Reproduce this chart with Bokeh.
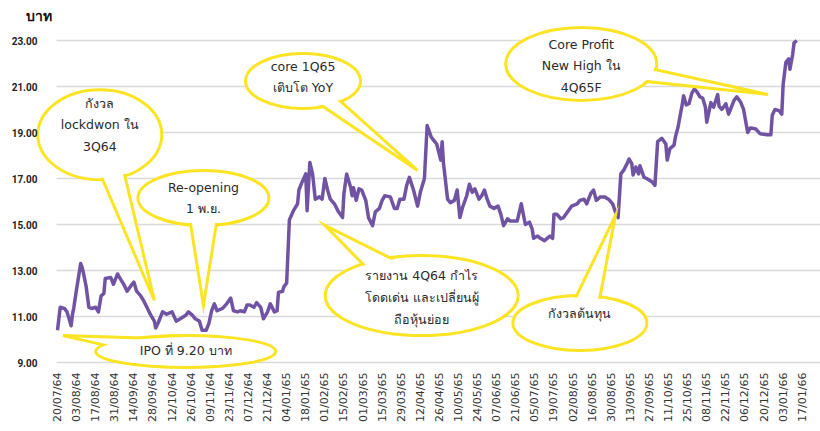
import math
from datetime import datetime

from bokeh.plotting import figure
from bokeh.models import FixedTicker, Label, Range1d
from bokeh.core.properties import value
from bokeh.embed import file_html
from bokeh.resources import INLINE

# ---------------- data ----------------
dates = [
    "2021-07-20", "2021-07-22", "2021-07-25", "2021-07-27", "2021-07-30", "2021-07-31",
    "2021-08-01", "2021-08-03", "2021-08-06", "2021-08-07", "2021-08-08", "2021-08-10",
    "2021-08-12", "2021-08-14", "2021-08-17", "2021-08-19", "2021-08-21", "2021-08-23",
    "2021-08-24", "2021-08-28", "2021-08-30", "2021-09-02", "2021-09-04", "2021-09-07",
    "2021-09-09", "2021-09-12", "2021-09-14", "2021-09-16", "2021-09-19", "2021-09-21",
    "2021-09-24", "2021-09-26", "2021-09-29", "2021-09-30", "2021-10-02", "2021-10-05",
    "2021-10-08", "2021-10-12", "2021-10-15", "2021-10-18", "2021-10-22", "2021-10-24",
    "2021-10-27", "2021-10-29", "2021-11-01", "2021-11-03", "2021-11-06", "2021-11-08",
    "2021-11-10", "2021-11-12", "2021-11-14", "2021-11-18", "2021-11-21", "2021-11-24",
    "2021-11-26", "2021-11-29", "2021-12-01", "2021-12-04", "2021-12-06", "2021-12-08",
    "2021-12-11", "2021-12-13", "2021-12-16", "2021-12-18", "2021-12-21", "2021-12-23",
    "2021-12-26", "2021-12-28", "2021-12-29", "2022-01-01", "2022-01-02", "2022-01-04",
    "2022-01-06", "2022-01-09", "2022-01-12", "2022-01-13", "2022-01-15", "2022-01-18",
    "2022-01-19", "2022-01-21", "2022-01-23", "2022-01-25", "2022-01-28", "2022-01-30",
    "2022-02-01", "2022-02-03", "2022-02-05", "2022-02-08", "2022-02-11", "2022-02-14",
    "2022-02-15", "2022-02-17", "2022-02-20", "2022-02-21", "2022-02-22", "2022-02-24",
    "2022-02-26", "2022-02-28", "2022-03-03", "2022-03-05", "2022-03-08", "2022-03-10",
    "2022-03-13", "2022-03-15", "2022-03-17", "2022-03-21", "2022-03-24", "2022-03-26",
    "2022-03-28", "2022-03-31", "2022-04-02", "2022-04-04", "2022-04-07", "2022-04-10",
    "2022-04-12", "2022-04-15", "2022-04-17", "2022-04-20", "2022-04-22", "2022-04-24",
    "2022-04-27", "2022-04-28", "2022-04-29", "2022-05-02", "2022-05-04", "2022-05-07",
    "2022-05-09", "2022-05-11", "2022-05-13", "2022-05-16", "2022-05-18", "2022-05-20",
    "2022-05-22", "2022-05-25", "2022-05-27", "2022-05-29", "2022-05-31", "2022-06-02",
    "2022-06-05", "2022-06-08", "2022-06-10", "2022-06-12", "2022-06-15", "2022-06-17",
    "2022-06-22", "2022-06-25", "2022-06-28", "2022-07-01", "2022-07-03", "2022-07-04",
    "2022-07-07", "2022-07-09", "2022-07-12", "2022-07-14", "2022-07-16", "2022-07-18",
    "2022-07-19", "2022-07-21", "2022-07-24", "2022-07-26", "2022-07-29", "2022-08-01",
    "2022-08-05", "2022-08-07", "2022-08-10", "2022-08-12", "2022-08-15", "2022-08-17",
    "2022-08-19", "2022-08-22", "2022-08-25", "2022-08-28", "2022-08-31", "2022-09-02",
    "2022-09-04", "2022-09-06", "2022-09-08", "2022-09-11", "2022-09-12", "2022-09-14",
    "2022-09-15", "2022-09-17", "2022-09-19", "2022-09-20", "2022-09-23", "2022-09-25",
    "2022-09-29", "2022-10-01", "2022-10-03", "2022-10-06", "2022-10-09", "2022-10-10",
    "2022-10-12", "2022-10-15", "2022-10-16", "2022-10-18", "2022-10-20", "2022-10-21",
    "2022-10-22", "2022-10-24", "2022-10-26", "2022-10-28", "2022-10-30", "2022-11-01",
    "2022-11-03", "2022-11-05", "2022-11-07", "2022-11-08", "2022-11-11", "2022-11-13",
    "2022-11-16", "2022-11-17", "2022-11-19", "2022-11-22", "2022-11-24", "2022-11-28",
    "2022-11-30", "2022-12-03", "2022-12-05", "2022-12-08", "2022-12-10", "2022-12-14",
    "2022-12-17", "2022-12-22", "2022-12-25", "2022-12-26", "2022-12-28", "2022-12-31",
    "2023-01-02", "2023-01-03", "2023-01-05", "2023-01-07", "2023-01-08", "2023-01-10",
    "2023-01-11", "2023-01-13",
]
prices = [
    10.40, 11.40, 11.35, 11.20, 10.60, 11.10,
    11.40, 12.20, 13.30, 13.15, 12.90, 12.30,
    11.40, 11.35, 11.40, 11.20, 11.90, 12.00,
    12.65, 12.70, 12.40, 12.85, 12.65, 12.35,
    12.10, 12.35, 12.50, 12.10, 11.90, 11.70,
    11.35, 11.10, 10.80, 10.50, 10.75, 11.20,
    11.10, 11.20, 10.80, 10.90, 11.05, 11.20,
    11.05, 10.90, 10.80, 10.40, 10.40, 10.70,
    11.25, 11.55, 11.25, 11.35, 11.55, 11.80,
    11.25, 11.20, 11.25, 11.20, 11.50, 11.50,
    11.40, 11.60, 11.40, 10.90, 11.20, 11.55,
    11.20, 11.25, 12.05, 12.10, 12.30, 12.45,
    15.20, 15.60, 15.90, 16.50, 16.80, 17.20,
    15.60, 17.70, 17.20, 16.10, 16.20, 16.10,
    17.00, 16.50, 16.10, 15.90, 15.55, 15.30,
    16.35, 17.20, 16.60, 16.25, 16.60, 16.05,
    16.55, 16.50, 16.05, 15.30, 14.95, 15.55,
    15.70, 16.05, 16.25, 16.20, 15.70, 15.70,
    16.10, 16.10, 16.70, 17.05, 16.50, 15.80,
    16.40, 17.00, 19.30, 18.80, 18.65, 18.50,
    17.80, 18.60, 17.65, 16.10, 15.95, 16.05,
    16.50, 15.30, 15.75, 16.25, 16.75, 16.40,
    16.55, 16.10, 16.25, 16.50, 16.10, 15.80,
    15.70, 15.80, 15.45, 14.95, 15.25, 15.15,
    15.15, 15.90, 15.00, 15.10, 14.80, 14.40,
    14.50, 14.40, 14.30, 14.40, 14.50, 14.40,
    15.45, 15.45, 15.25, 15.30, 15.55, 15.80,
    15.90, 16.05, 16.10, 15.90, 16.35, 16.50,
    16.05, 16.20, 16.20, 16.10, 15.90, 15.55,
    15.30, 17.20, 17.35, 17.70, 17.85, 17.65,
    17.15, 17.50, 17.20, 17.55, 17.05, 17.00,
    16.85, 16.70, 18.60, 18.75, 18.50, 17.80,
    18.30, 18.45, 18.80, 19.25, 19.90, 20.20,
    20.60, 20.20, 20.25, 20.70, 20.90, 20.75,
    20.55, 20.50, 20.10, 19.45, 20.30, 20.10,
    20.65, 20.15, 20.00, 20.25, 19.80, 20.40,
    20.55, 20.30, 20.00, 19.00, 19.20, 19.15,
    18.95, 18.90, 18.90, 19.75, 20.00, 19.95,
    19.80, 21.10, 22.05, 22.20, 21.75, 22.40,
    22.90, 23.00,
]
x_tick_labels = [
    "20/07/64", "03/08/64", "17/08/64", "31/08/64", "14/09/64", "28/09/64",
    "12/10/64", "26/10/64", "09/11/64", "23/11/64", "07/12/64", "21/12/64",
    "04/01/65", "18/01/65", "01/02/65", "15/02/65", "01/03/65", "15/03/65",
    "29/03/65", "12/04/65", "26/04/65", "10/05/65", "24/05/65", "07/06/65",
    "21/06/65", "05/07/65", "19/07/65", "02/08/65", "16/08/65", "30/08/65",
    "13/09/65", "27/09/65", "11/10/65", "25/10/65", "08/11/65", "22/11/65",
    "06/12/65", "20/12/65", "03/01/66", "17/01/66", "31/01/66",
]
y_ticks = [9, 11, 13, 15, 17, 19, 21, 23]
y_tick_labels = ["9.00", "11.00", "13.00", "15.00", "17.00", "19.00", "21.00", "23.00"]
unit_label = "บาท"

callout_texts = [
    "กังวล\nlockdwon ใน\n3Q64",
    "Re-opening\n1 พ.ย.",
    "core 1Q65\nเติบโต YoY",
    "Core Profit\nNew High ใน\n4Q65F",
    "รายงาน 4Q64 กำไร\nโดดเด่น และเปลี่ยนผู้\nถือหุ้นย่อย",
    "กังวลต้นทุน",
    "IPO ที่ 9.20 บาท",
]

# ---------------- layout / style ----------------
W, H = 820, 431
BORDER_L, BORDER_B = 24, 62
FRAME_W, FRAME_H = W - BORDER_L, H - BORDER_B
FIRST_TICK_PX = 57          # canvas x of the first date tick
PX_PER_DAY = 1.364
PX_PER_UNIT = 23.0
LINE_COLOR = "#7153A3"
YELLOW = "#FBE423"
GRID_COLOR = "#D9D9D9"
TEXT_COLOR = "#2A2A2A"
FONT = "DejaVu Sans"

EPOCH = datetime(1970, 1, 1)
DAY_MS = 86400000.0


def ms(dt):
    return (dt - EPOCH).total_seconds() * 1000.0


def parse_be(label):
    d, m, yy = label.split("/")
    return datetime(2500 + int(yy) - 543, int(m), int(d))


x_vals = [ms(datetime.fromisoformat(d)) for d in dates]
tick_ms = [ms(parse_be(t)) for t in x_tick_labels]

x0 = tick_ms[0] - (FIRST_TICK_PX - BORDER_L) / PX_PER_DAY * DAY_MS
x1 = x0 + FRAME_W / PX_PER_DAY * DAY_MS
y0 = 9 - 7 / PX_PER_UNIT
y1 = y0 + FRAME_H / PX_PER_UNIT
MS_PER_PX = DAY_MS / PX_PER_DAY
UNIT_PER_PX = 1.0 / PX_PER_UNIT

p = figure(
    width=W, height=H, x_axis_type="datetime",
    x_range=Range1d(x0, x1), y_range=Range1d(y0, y1),
    output_backend="svg", toolbar_location=None,
    min_border_left=BORDER_L, min_border_right=0,
    min_border_top=0, min_border_bottom=BORDER_B,
)
p.outline_line_color = None
p.background_fill_color = "white"
p.border_fill_color = "white"
p.xgrid.visible = False
p.ygrid.visible = False

# horizontal gridlines, starting at the first date
p.segment(x0=[tick_ms[0] - 0.7 * DAY_MS] * len(y_ticks), x1=[x1] * len(y_ticks),
          y0=y_ticks, y1=y_ticks, line_color=GRID_COLOR, line_width=1.5)

# axes
xa = p.xaxis[0]
xa.ticker = FixedTicker(ticks=tick_ms)
xa.major_label_overrides = {t: lab for t, lab in zip(tick_ms, x_tick_labels)}
xa.major_label_orientation = math.pi / 2
xa.axis_line_color = None
xa.major_tick_line_color = None
xa.minor_tick_line_color = None
xa.major_tick_out = 0
xa.major_tick_in = 0
xa.minor_tick_out = 0
xa.major_label_standoff = 3
xa.major_label_text_font = FONT
xa.major_label_text_font_size = "11px"
xa.major_label_text_color = "#333333"

ya = p.yaxis[0]
ya.ticker = FixedTicker(ticks=y_ticks)
ya.major_label_overrides = {t: lab for t, lab in zip(y_ticks, y_tick_labels)}
ya.axis_line_color = None
ya.major_tick_line_color = None
ya.minor_tick_line_color = None
ya.major_tick_out = 0
ya.major_tick_in = 0
ya.minor_tick_out = 0
ya.major_label_standoff = -13
ya.major_label_text_font = "Roboto"
ya.major_label_text_font_style = "bold"
ya.major_label_text_font_size = "10px"
ya.major_label_text_color = "#222222"

# price line
p.line(x_vals, prices, line_color=LINE_COLOR, line_width=3.5, line_join="round")

# ---------------- callouts (anchors in data space: date, baht) ----------------
callout_center = [("2021-08-20", 18.90), ("2021-11-04", 16.15), ("2022-01-16", 21.24),
                  ("2022-08-08", 21.98), ("2022-04-13", 11.91), ("2022-08-07", 10.72),
                  ("2021-10-22", 9.48)]
callout_tip = [("2021-09-29", 11.70), ("2021-11-04", 11.48), ("2022-04-10", 17.35),
               ("2022-12-23", 20.65), ("2022-02-01", 14.96), ("2022-09-02", 15.39),
               ("2021-07-24", 10.17)]
callout_size = [(124, 90), (131, 55), (115, 55), (151, 73), (193, 80), (134, 55), (180, 32)]
callout_tail_half = [15, 17, 10, 10.5, 20, 15, 12]
callout_text_dy = [-10, 0, -4, 2, 2, -9.5, -1]

cx = [ms(datetime.fromisoformat(c[0])) for c in callout_center]
cy = [c[1] for c in callout_center]
tx = [ms(datetime.fromisoformat(t[0])) for t in callout_tip]
ty = [t[1] for t in callout_tip]

tails_x, tails_y = [], []
for i in range(len(cx)):
    dxp = (tx[i] - cx[i]) / MS_PER_PX
    dyp = (ty[i] - cy[i]) / UNIT_PER_PX
    L = math.hypot(dxp, dyp)
    px_, py_ = -dyp / L, dxp / L
    bw = callout_tail_half[i]
    ax = cx[i] + px_ * bw * MS_PER_PX
    ay = cy[i] + py_ * bw * UNIT_PER_PX
    bx = cx[i] - px_ * bw * MS_PER_PX
    by = cy[i] - py_ * bw * UNIT_PER_PX
    tails_x.append([ax, tx[i], bx])
    tails_y.append([ay, ty[i], by])

ws = [s[0] for s in callout_size]
hs = [s[1] for s in callout_size]
p.ellipse(x=cx, y=cy, width=ws, height=hs, width_units="screen", height_units="screen",
          fill_color="white", line_color=YELLOW, line_width=3)
p.patches(tails_x, tails_y, fill_color="white", line_color=YELLOW, line_width=3,
          line_join="miter")
p.ellipse(x=cx, y=cy, width=[w - 4 for w in ws], height=[h - 4 for h in hs],
          width_units="screen", height_units="screen",
          fill_color="white", line_color=None)

text_y = [cy[i] - callout_text_dy[i] * UNIT_PER_PX for i in range(len(cy))]
p.text(x=cx, y=text_y, text=callout_texts, text_align="center", text_baseline="middle",
       text_font=value(FONT), text_font_size="12.5px", text_color=TEXT_COLOR,
       text_line_height=1.45)

# unit label
p.add_layout(Label(x=tick_ms[0] - 23.0 * DAY_MS, y=9 + (362 - 23) / PX_PER_UNIT,
                   text=unit_label, text_font=FONT, text_font_style="bold",
                   text_font_size="14px", text_color="#111111",
                   text_baseline="bottom", text_align="left"))

with open("out.html", "w") as f:
    f.write(file_html(p, INLINE))
